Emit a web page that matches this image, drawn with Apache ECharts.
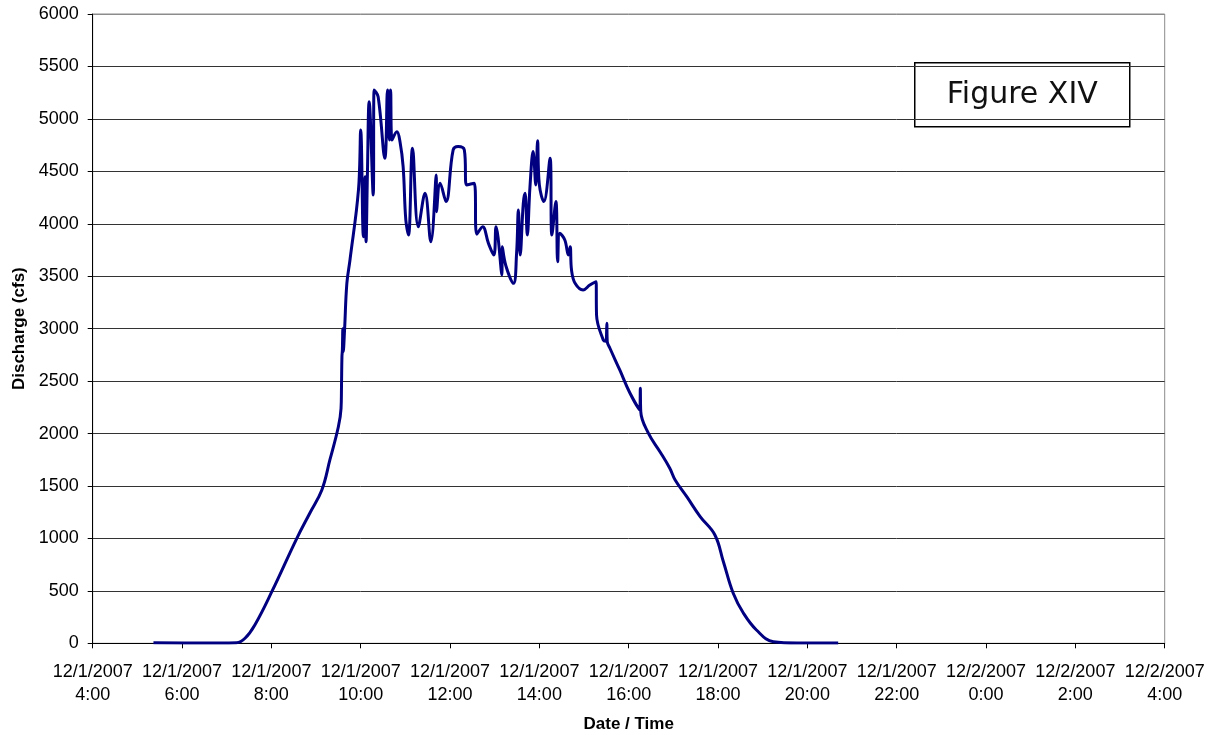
<!DOCTYPE html>
<html>
<head>
<meta charset="utf-8">
<script src="https://cdn.jsdelivr.net/npm/echarts@6/dist/echarts.min.js"></script>
<style>
  html, body { margin: 0; padding: 0; background: #fff; }
  #chart { width: 1212px; height: 735px; }
</style>
</head>
<body>
<div id="chart"></div>
<script>
// hours since midnight 12/1/2007
const hours = [
  5.36, 6.40, 7.22, 7.41, 7.63, 8.01, 8.57, 8.86, 9.13, 9.31,
  9.50, 9.56, 9.57, 9.58, 9.59, 9.60, 9.61, 9.64, 9.69, 9.76,
  9.95, 10.00, 10.06, 10.10, 10.12, 10.15, 10.19, 10.28, 10.30, 10.39,
  10.54, 10.60, 10.64, 10.67, 10.70, 10.81, 10.88, 10.95, 11.01, 11.07,
  11.16, 11.29, 11.44, 11.57, 11.69, 11.70, 11.78, 11.91, 12.07, 12.18,
  12.32, 12.37, 12.54, 12.60, 12.73, 12.86, 12.98, 13.03, 13.16, 13.17,
  13.25, 13.42, 13.49, 13.53, 13.57, 13.64, 13.68, 13.73, 13.79, 13.86,
  13.92, 13.96, 14.00, 14.10, 14.24, 14.28, 14.37, 14.41, 14.46, 14.57,
  14.65, 14.69, 14.72, 14.80, 14.98, 15.13, 15.27, 15.28, 15.43, 15.49,
  15.51, 15.52, 15.58, 15.80, 16.03, 16.25, 16.26, 16.27, 16.44, 16.70,
  16.92, 17.04, 17.30, 17.60, 17.93, 18.12, 18.34, 18.57, 18.86, 19.24,
  19.83, 20.69
];

// discharge in cfs
const discharge = [
  5, 2, 5, 48, 175, 492, 1001, 1240, 1462, 1748,
  2065, 2240, 2447, 2733, 2800, 3000, 2780, 3000, 3432, 3655,
  4322, 4894, 3877, 4449, 3829, 4465, 5164, 4275, 5276, 5212,
  4625, 5276, 4799, 5276, 4799, 4878, 4783, 4544, 4036, 3893,
  4720, 3972, 4291, 3829, 4465, 4115, 4387, 4212, 4704, 4736,
  4704, 4370, 4387, 3900, 3972, 3813, 3702, 3972, 3512, 3781,
  3600, 3432, 3718, 4131, 3702, 4195, 4291, 3893, 4355, 4688,
  4370, 4792, 4370, 4212, 4625, 3893, 4212, 3639, 3909, 3845,
  3702, 3781, 3559, 3432, 3369, 3416, 3448, 3130, 2892, 2880,
  3051, 2876, 2813, 2606, 2384, 2225, 2431, 2209, 2003, 1827,
  1669, 1557, 1398, 1208, 1033, 778, 477, 286, 127, 15,
  3, 2
];

const xMin = 4, xMax = 28, xStep = 2;
const yMin = 0, yMax = 6000, yStep = 500;

const chart = echarts.init(document.getElementById('chart'));

// 6000 线与边框一样是灰色，其余为深色
const gridColors = [];
for (let v = yMin; v <= yMax; v += yStep) gridColors.push(v === yMax ? '#8c8c8c' : '#333');

const fmtTime = (v) => {
    const day = 1 + Math.floor(v / 24);
    return `12/${day}/2007\n${v % 24}:00`;
};

chart.setOption({
    animation: false,
    textStyle: { fontFamily: 'Liberation Sans, Arial, sans-serif' },
    grid: {
        left: 92.7, right: 47.3, top: 14, bottom: 91.7,
        outerBoundsMode: 'none',
        containLabel: false,
        show: true, borderColor: '#8c8c8c', borderWidth: 1
    },
    xAxis: {
        type: 'value',
        min: xMin, max: xMax, interval: xStep,
        name: 'Date / Time',
        nameLocation: 'middle',
        nameGap: 73,
        nameTextStyle: { fontSize: 17, fontWeight: 'bold', color: '#000' },
        axisLine: { lineStyle: { color: '#000', width: 1 } },
        axisTick: { length: 5, lineStyle: { color: '#000' } },
        axisLabel: {
            formatter: fmtTime, fontSize: 18, color: '#000',
            lineHeight: 23, margin: 17
        },
        splitLine: { show: false }
    },
    yAxis: {
        type: 'value',
        min: yMin, max: yMax, interval: yStep,
        name: 'Discharge (cfs)',
        nameLocation: 'middle',
        nameGap: 61,
        nameTextStyle: { fontSize: 17, fontWeight: 'bold', color: '#000' },
        axisLine: { show: true, lineStyle: { color: '#000', width: 1 } },
        axisTick: { show: true, length: 5, lineStyle: { color: '#000' } },
        axisLabel: { formatter: (v) => String(v), fontSize: 18, color: '#000', margin: 14 },
        splitLine: { show: true, lineStyle: { color: gridColors, width: 1 } }
    },
    series: [{
        type: 'line',
        data: hours.map((h, i) => [h, discharge[i]]),
        showSymbol: false,
        smooth: 0.4,
        lineStyle: { color: '#000080', width: 3 },
        z: 3
    }],
    graphic: [{
        type: 'group',
        left: 914, top: 62,
        children: [{
            type: 'rect',
            shape: { x: 0, y: 0, width: 215, height: 64 },
            style: { fill: '#fff', stroke: '#000', lineWidth: 1.5 }
        }, {
            type: 'text',
            x: 107.5, y: 32,
            style: {
                text: 'Figure XIV',
                font: '30px "DejaVu Sans", sans-serif',
                fill: '#111',
                align: 'center',
                verticalAlign: 'middle'
            }
        }]
    }]
});
</script>
</body>
</html>
